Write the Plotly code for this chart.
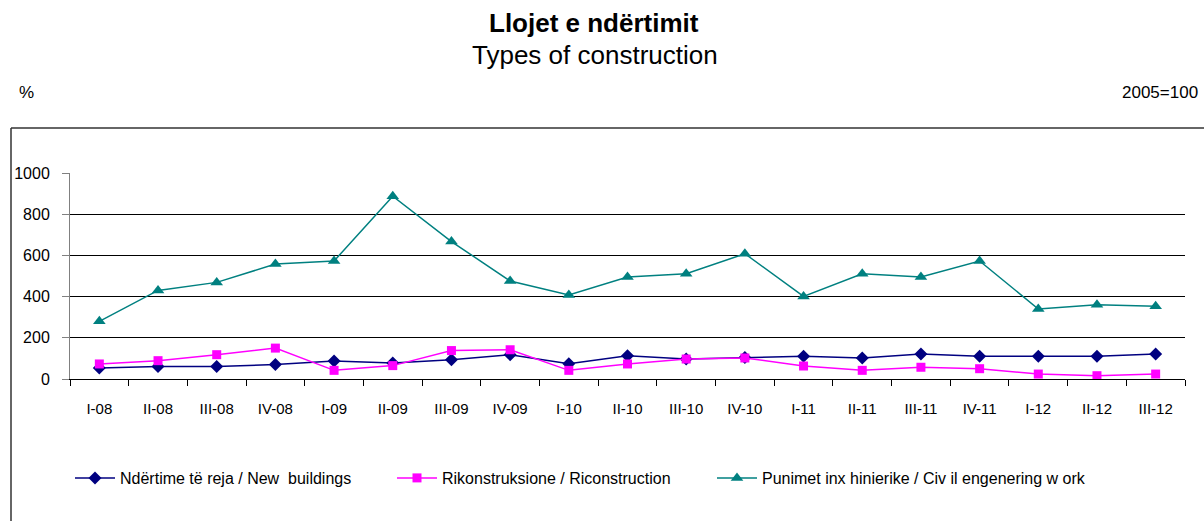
import plotly.graph_objects as go

# quarters on the x axis
quarters = [
    "I-08", "II-08", "III-08", "IV-08",
    "I-09", "II-09", "III-09", "IV-09",
    "I-10", "II-10", "III-10", "IV-10",
    "I-11", "II-11", "III-11", "IV-11",
    "I-12", "II-12", "III-12",
]

# indices, 2005=100
new_buildings = [53, 61, 61, 70, 87, 78, 94, 118, 74, 113, 97, 104, 110, 102, 121, 110, 110, 110, 121]
reconstruction = [73, 89, 118, 150, 42, 65, 138, 142, 42, 73, 97, 102, 63, 42, 57, 50, 24, 16, 24]
civil_works = [280, 430, 469, 558, 573, 887, 667, 476, 408, 495, 511, 608, 401, 511, 495, 573, 340, 361, 353]

y_ticks = [0, 200, 400, 600, 800, 1000]

FONT = "Liberation Sans, Arial, sans-serif"

# plot area in pixels (used to place the outside decorations)
W, H = 1204, 521
L, R, T, B = 70, 19, 173, 142
PW, PH = W - L - R, H - T - B


def px_x(x):
    return (x - L) / PW


def px_y(y):
    return (H - B - y) / PH


def legend_at(x_px):
    # one legend per series so each entry sits where the original puts it
    return dict(
        orientation="h",
        x=px_x(x_px),
        y=px_y(478),
        xanchor="left",
        yanchor="middle",
        font=dict(size=16),
        itemwidth=40,
        bgcolor="rgba(0,0,0,0)",
    )


fig = go.Figure()
fig.add_trace(
    go.Scatter(
        x=quarters,
        y=new_buildings,
        mode="lines+markers",
        name="Ndërtime të reja / New  buildings",
        line=dict(color="#000080", width=1.5),
        marker=dict(symbol="diamond", size=10, color="#000080"),
        legend="legend",
    )
)
fig.add_trace(
    go.Scatter(
        x=quarters,
        y=reconstruction,
        mode="lines+markers",
        name="Rikonstruksione / Riconstruction",
        line=dict(color="#ff00ff", width=1.5),
        marker=dict(symbol="square", size=9, color="#ff00ff"),
        legend="legend2",
    )
)
fig.add_trace(
    go.Scatter(
        x=quarters,
        y=civil_works,
        mode="lines+markers",
        name="Punimet inx hinierike / Civ il engenering w ork",
        line=dict(color="#008080", width=1.5),
        marker=dict(symbol="triangle-up", size=11, color="#008080"),
        legend="legend3",
    )
)

fig.update_layout(
    width=W,
    height=H,
    margin=dict(l=L, r=R, t=T, b=B, autoexpand=False),
    paper_bgcolor="white",
    plot_bgcolor="white",
    font=dict(family=FONT, size=14, color="black"),
    showlegend=True,
    legend=legend_at(70),
    legend2=legend_at(392),
    legend3=legend_at(712),
    xaxis=dict(
        type="category",
        range=[-0.5, len(quarters) - 0.5],
        showgrid=False,
        showline=True,
        linecolor="black",
        linewidth=1,
        ticks="outside",
        tickson="boundaries",
        ticklen=6,
        tickcolor="black",
        tickfont=dict(size=15),
        ticklabelstandoff=16,
    ),
    yaxis=dict(
        range=[0, 1000],
        tickvals=y_ticks,
        showgrid=True,
        gridcolor="black",
        gridwidth=1,
        zeroline=False,
        showline=True,
        linecolor="#808080",
        linewidth=1,
        ticks="outside",
        ticklen=7,
        tickcolor="#808080",
        tickfont=dict(size=16),
        ticklabelstandoff=9,
    ),
    annotations=[
        dict(text="<b>Llojet e ndërtimit</b>", x=px_x(594), y=px_y(23), xref="paper",
             yref="paper", showarrow=False, font=dict(size=26), xanchor="center", yanchor="middle"),
        dict(text="Types of construction", x=px_x(595), y=px_y(55), xref="paper", yref="paper",
             showarrow=False, font=dict(size=26), xanchor="center", yanchor="middle"),
        dict(text="%", x=px_x(17), y=px_y(93), xref="paper", yref="paper",
             showarrow=False, font=dict(size=17), xanchor="left", yanchor="middle"),
        dict(text="2005=100", x=px_x(1200), y=px_y(93), xref="paper", yref="paper",
             showarrow=False, font=dict(size=17), xanchor="right", yanchor="middle"),
    ],
    shapes=[
        dict(type="line", xref="paper", yref="paper", x0=px_x(11), x1=px_x(W + 2),
             y0=px_y(128), y1=px_y(128), line=dict(color="#333333", width=1.5)),
        dict(type="line", xref="paper", yref="paper", x0=px_x(11), x1=px_x(11),
             y0=px_y(128), y1=px_y(H + 2), line=dict(color="#333333", width=1.5)),
    ],
)

# the page body has a default 8px margin; drop it so the figure sits at (0, 0)
fig.write_html(
    "out.html",
    config={"displayModeBar": False},
    post_script="document.body.style.margin = '0';",
)
